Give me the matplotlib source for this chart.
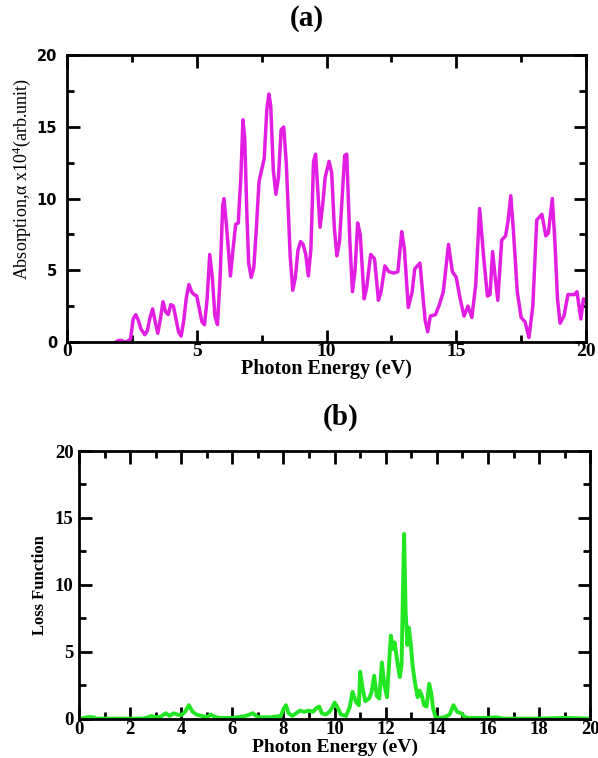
import matplotlib
matplotlib.use('Agg')
import matplotlib.pyplot as plt
from matplotlib.ticker import MultipleLocator

# ---------------------------- Data ----------------------------

# (a) absorption
abs_x = [1.9, 2.0, 2.1, 2.2, 2.3, 2.45, 2.55, 2.65, 2.75, 2.85, 3.0, 3.1, 3.2, 3.3, 3.4, 3.5, 3.6,
         3.7, 3.8, 3.9, 4.0, 4.1, 4.2, 4.3, 4.4, 4.5, 4.6, 4.7, 4.8, 4.9, 5.0, 5.1, 5.2, 5.3,
         5.4, 5.5, 5.6, 5.7, 5.8, 5.9, 6.0, 6.05, 6.15, 6.3, 6.4, 6.5, 6.6, 6.7, 6.78, 6.85, 6.93,
         7.0, 7.1, 7.2, 7.3, 7.4, 7.5, 7.6, 7.7, 7.78, 7.85, 7.95, 8.05, 8.15, 8.25, 8.35, 8.45, 8.6,
         8.7, 8.8, 8.9, 9.0, 9.1, 9.2, 9.3, 9.4, 9.5, 9.58, 9.75, 9.85, 9.95, 10.1, 10.2, 10.3,
         10.4, 10.5, 10.6, 10.7, 10.78, 10.9, 11.0, 11.1, 11.2, 11.3, 11.45, 11.55, 11.7, 11.85,
         12.0, 12.1, 12.25, 12.4, 12.6, 12.75, 12.9, 13.0, 13.15, 13.3, 13.4, 13.6, 13.7, 13.8,
         13.9, 14.0, 14.2, 14.35, 14.5, 14.7, 14.85, 15.0, 15.15, 15.3, 15.45, 15.6, 15.75,
         15.9, 16.05, 16.2, 16.3, 16.4, 16.5, 16.6, 16.75, 16.9, 17.0, 17.1, 17.2, 17.35, 17.5,
         17.65, 17.8, 17.95, 18.1, 18.3, 18.45, 18.55, 18.7, 18.8, 18.9, 19.0, 19.15, 19.3,
         19.45, 19.55, 19.65, 19.8, 19.9, 20.0]
abs_y = [0.0, 0.1, 0.1, 0.0, 0.0, 0.2, 1.6, 1.9, 1.5, 0.9, 0.5, 0.8, 1.7, 2.3, 1.4, 0.6, 1.6,
         2.8, 2.1, 1.9, 2.6, 2.5, 1.6, 0.7, 0.4, 1.5, 3.1, 4.0, 3.5, 3.3, 3.2, 2.3, 1.4, 1.2,
         3.0, 6.1, 4.5, 1.8, 1.2, 4.5, 9.5, 10.0, 8.0, 4.6, 6.5, 8.2, 8.3, 11.5, 15.5, 14.2, 9.0,
         5.5, 4.5, 5.2, 8.0, 11.2, 12.0, 12.8, 16.2, 17.3, 16.5, 12.0, 10.3, 11.5, 14.8, 15.0, 12.5, 6.0,
         3.6, 4.5, 6.4, 7.0, 6.8, 6.1, 4.6, 6.5, 12.6, 13.1, 8.0, 9.5, 11.5, 12.6, 11.8, 8.0,
         6.0, 7.0, 10.0, 13.0, 13.1, 7.0, 3.5, 5.0, 8.3, 7.5, 3.0, 3.8, 6.1, 5.8,
         2.9, 3.5, 5.3, 4.9, 4.8, 4.9, 7.7, 6.5, 2.4, 3.5, 5.1, 5.5, 3.5, 1.5,
         0.7, 1.8, 1.9, 2.6, 3.5, 6.8, 4.9, 4.5, 3.0, 1.8, 2.5, 1.7, 4.0,
         9.3, 6.0, 3.2, 3.3, 6.3, 4.5, 2.9, 7.1, 7.4, 8.5, 10.2, 7.8, 3.5, 1.7,
         1.4, 0.3, 2.5, 8.5, 8.9, 7.4, 7.6, 10.0, 7.0, 3.0, 1.3, 1.8, 3.3,
         3.3, 3.3, 3.5, 1.6, 3.0, 2.8]

# (b) loss function
loss_x = [0.0, 0.2, 0.4, 0.55, 0.7, 1.0, 1.5, 2.0, 2.5, 2.7, 2.85, 3.0, 3.2, 3.4, 3.55, 3.7,
          3.85, 4.0, 4.15, 4.3, 4.45, 4.6, 4.8, 5.0, 5.15, 5.3, 5.5, 6.0, 6.4, 6.6, 6.8, 7.0,
          7.5, 7.9, 8.0, 8.1, 8.2, 8.35, 8.5, 8.65, 8.8, 9.0, 9.15, 9.3, 9.4, 9.5, 9.65, 9.8,
          9.9, 10.0, 10.1, 10.25, 10.45, 10.6, 10.7, 10.85, 10.95, 11.0, 11.1, 11.2, 11.35,
          11.45, 11.55, 11.65, 11.75, 11.85, 11.95, 12.05, 12.2, 12.28, 12.35, 12.45, 12.55,
          12.62, 12.68, 12.72, 12.78, 12.85, 12.9, 12.97, 13.05, 13.15, 13.25, 13.32, 13.4,
          13.5, 13.6, 13.7, 13.78, 13.85, 13.95, 14.1, 14.3, 14.5, 14.65, 14.8, 14.95,
          15.1, 15.3, 15.6, 16.0, 16.3, 16.6, 17.0, 18.0, 19.0, 20.0]
loss_y = [0.0, 0.05, 0.12, 0.1, 0.0, 0.0, 0.0, 0.0, 0.0, 0.1, 0.2, 0.1, 0.15, 0.4, 0.2, 0.4,
          0.3, 0.25, 0.5, 1.0, 0.5, 0.3, 0.2, 0.1, 0.3, 0.15, 0.05, 0.05, 0.15, 0.25, 0.4, 0.1,
          0.1, 0.2, 0.7, 1.0, 0.4, 0.2, 0.4, 0.6, 0.5, 0.6, 0.5, 0.8, 0.9, 0.4, 0.3, 0.5,
          0.8, 1.2, 0.9, 0.3, 0.2, 0.9, 2.0, 1.2, 1.0, 3.5, 2.2, 1.3, 1.5,
          2.0, 3.2, 1.7, 1.5, 4.2, 2.5, 1.6, 6.2, 5.2, 5.7, 4.3, 3.1,
          4.0, 10.0, 13.8, 8.0, 5.5, 6.8, 5.8, 4.0, 2.6, 1.6, 2.1, 1.8,
          1.0, 0.9, 2.6, 1.9, 0.8, 0.1, 0.05, 0.1, 0.3, 1.0, 0.5, 0.4,
          0.1, 0.05, 0.05, 0.05, 0.1, 0.0, 0.0, 0.0, 0.05, 0.0]

# ---------------------------- Plot ----------------------------

SERIF = 'Liberation Serif'
SANS = 'DejaVu Sans'

plt.rcParams['mathtext.fontset'] = 'custom'
plt.rcParams['mathtext.rm'] = SERIF
plt.rcParams['mathtext.it'] = SERIF + ':italic'

fig = plt.figure(figsize=(5.98, 7.58), dpi=100)


def style_axes(ax, xmajor, xminor, xpad, ypad):
	ax.set_xlim(0, 20)
	ax.set_ylim(0, 20)
	ax.xaxis.set_major_locator(MultipleLocator(xmajor))
	ax.xaxis.set_minor_locator(MultipleLocator(xminor))
	ax.yaxis.set_major_locator(MultipleLocator(5))
	ax.yaxis.set_minor_locator(MultipleLocator(2.5))
	ax.tick_params(which='both', direction='in', top=True, right=True, width=2)
	ax.tick_params(which='major', length=9)
	ax.tick_params(which='minor', length=5)
	ax.tick_params(axis='x', pad=xpad)
	ax.tick_params(axis='y', pad=ypad)
	for s in ax.spines.values():
		s.set_linewidth(2)


def bold_labels(labels):
	for lbl in labels:
		lbl.set_fontweight('bold')


# (a)
ax1 = fig.add_axes([0.112, 0.549, 0.868, 0.378])
ax1.plot(abs_x, abs_y, color='#e21ee2', linewidth=2.5, solid_joinstyle='round')
style_axes(ax1, 5, 2.5, 1, 7)
ax1.tick_params(axis='x', labelsize=14, labelfontfamily=SERIF)
ax1.tick_params(axis='y', labelsize=10.5, labelfontfamily=SANS)
ax1.set_xlabel('Photon Energy (eV)', fontfamily=SERIF, fontweight='bold', fontsize=14.5, labelpad=-1)
ax1.set_ylabel(r'Absorption,α x10$^4$(arb.unit)', fontfamily=SERIF, fontsize=13, labelpad=4)
ax1.yaxis.set_label_coords(-0.066, 0.57)
fig.text(0.513, 0.976, '(a)', ha='center', va='center', fontfamily=SERIF, fontweight='bold', fontsize=21)

# (b)
ax2 = fig.add_axes([0.132, 0.052, 0.855, 0.353])
ax2.plot(loss_x, loss_y, color='#22e622', linewidth=2.8, solid_joinstyle='round')
style_axes(ax2, 2, 1, 2, 4)
ax2.tick_params(axis='both', labelsize=13.5, labelfontfamily=SERIF)
ax2.set_xlabel('Photon Energy (eV)', fontfamily=SERIF, fontweight='bold', fontsize=14, labelpad=0)
ax2.set_ylabel('Loss Function', fontfamily=SERIF, fontweight='bold', fontsize=12, labelpad=5)
fig.text(0.569, 0.449, '(b)', ha='center', va='center', fontfamily=SERIF, fontweight='bold', fontsize=21)

fig.canvas.draw()
for ax in (ax1, ax2):
	bold_labels(ax.get_xticklabels() + ax.get_yticklabels())

fig.savefig('out.png', dpi=100)
